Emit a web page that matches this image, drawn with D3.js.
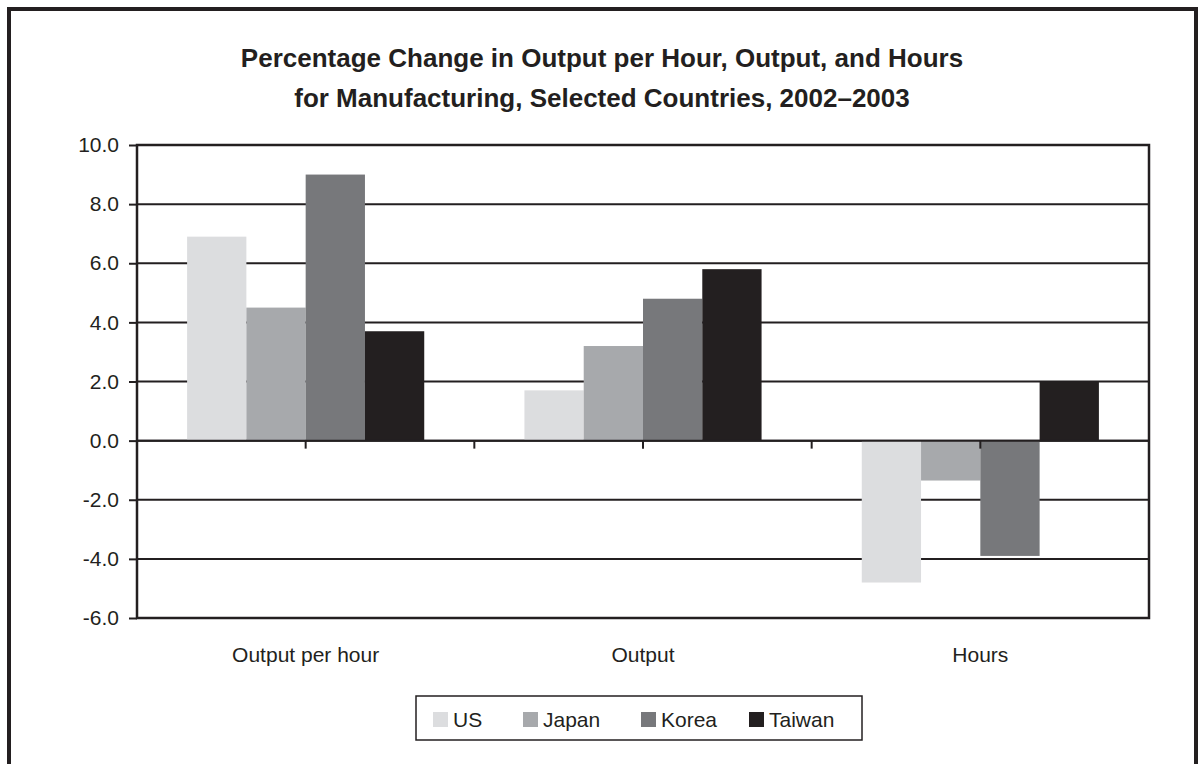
<!DOCTYPE html>
<html>
<head>
<meta charset="utf-8">
<script src="https://cdn.jsdelivr.net/npm/d3@7"></script>
<style>
  html, body { margin: 0; padding: 0; background: #fff; }
  svg text { font-family: "Liberation Sans", Arial, Helvetica, sans-serif; fill: #231f20; }
</style>
</head>
<body>
<div id="chart"></div>
<script>
// ---------------- data ----------------
const categories = ['Output per hour', 'Output', 'Hours'];
const seriesNames = ['US', 'Japan', 'Korea', 'Taiwan'];
const usValues     = [6.9, 1.7, -4.8];
const japanValues  = [4.5, 3.2, -1.35];
const koreaValues  = [9.0, 4.8, -3.9];
const taiwanValues = [3.7, 5.8, 2.0];
const yTicks = [10, 8, 6, 4, 2, 0, -2, -4, -6];
const titleLines = [
  'Percentage Change in Output per Hour, Output, and Hours',
  'for Manufacturing, Selected Countries, 2002\u20132003'
];

const seriesValues = [usValues, japanValues, koreaValues, taiwanValues];
const colors = ['#dcdddf', '#a7a9ac', '#77787b', '#231f20'];
const ink = '#231f20';

const totalWidth = 1198, totalHeight = 764;
const plot = { left: 137, right: 1149, top: 145, bottom: 618 };

const svg = d3.select('#chart').append('svg')
  .attr('width', totalWidth)
  .attr('height', totalHeight);

// outer frame (bottom edge runs off the page)
svg.append('path')
  .attr('d', 'M9,' + totalHeight + 'V9H1196V' + totalHeight)
  .attr('fill', 'none')
  .attr('stroke', ink)
  .attr('stroke-width', 4);

// title
svg.append('g').selectAll('text')
  .data(titleLines)
  .enter()
  .append('text')
  .attr('x', 602)
  .attr('y', (d, i) => 67 + i * 40)
  .attr('text-anchor', 'middle')
  .style('font-size', '26px')
  .style('font-weight', 'bold')
  .text(d => d);

// ---------------- scales ----------------
const yScale = d3.scaleLinear().domain([-6, 10]).range([plot.bottom, plot.top]);
const x0 = d3.scaleBand().domain(categories).range([plot.left, plot.right]).padding(0);
const gapWidth = 1.69;
const barW = x0.bandwidth() / (seriesNames.length + gapWidth);
const x1 = d3.scaleBand().domain(seriesNames)
  .range([(x0.bandwidth() - barW * 4) / 2, (x0.bandwidth() + barW * 4) / 2]);

// gridlines
svg.append('g').selectAll('line')
  .data(yTicks)
  .enter()
  .append('line')
  .attr('x1', plot.left)
  .attr('x2', plot.right)
  .attr('y1', d => yScale(d))
  .attr('y2', d => yScale(d))
  .attr('stroke', ink)
  .attr('stroke-width', 2);

// bars
const rows = [];
categories.forEach((c, ci) => {
  seriesNames.forEach((s, si) => {
    rows.push({ cat: c, series: s, value: seriesValues[si][ci], color: colors[si] });
  });
});

svg.append('g').selectAll('rect')
  .data(rows)
  .enter()
  .append('rect')
  .attr('x', d => x0(d.cat) + x1(d.series))
  .attr('width', x1.bandwidth())
  .attr('y', d => yScale(Math.max(0, d.value)))
  .attr('height', d => Math.abs(yScale(d.value) - yScale(0)))
  .attr('fill', d => d.color);

// zero line on top of bars
svg.append('line')
  .attr('x1', plot.left).attr('x2', plot.right)
  .attr('y1', yScale(0)).attr('y2', yScale(0))
  .attr('stroke', ink).attr('stroke-width', 2);

// x ticks on zero line (category centres and boundaries)
const xTickPos = [];
categories.forEach((c, i) => {
  xTickPos.push(x0(c) + x0.bandwidth() / 2);
  if (i > 0) xTickPos.push(x0(c));
});
svg.append('g').selectAll('line')
  .data(xTickPos)
  .enter()
  .append('line')
  .attr('x1', d => d).attr('x2', d => d)
  .attr('y1', yScale(0)).attr('y2', yScale(0) + 8)
  .attr('stroke', ink).attr('stroke-width', 2);

// plot frame
svg.append('rect')
  .attr('x', plot.left).attr('y', plot.top)
  .attr('width', plot.right - plot.left)
  .attr('height', plot.bottom - plot.top)
  .attr('fill', 'none')
  .attr('stroke', ink)
  .attr('stroke-width', 2.5);

// y axis (plain hyphen for negatives, like the original)
const yAxis = d3.axisLeft(yScale)
  .tickValues(yTicks)
  .tickSize(8)
  .tickPadding(10)
  .tickFormat(d => d.toFixed(1));
const yAxisView = svg.append('g')
  .attr('transform', 'translate(' + plot.left + ',0)')
  .call(yAxis);
yAxisView.select('.domain').remove();
yAxisView.selectAll('line').attr('stroke', ink).attr('stroke-width', 2);
yAxisView.selectAll('text')
  .style('font-size', '21px')
  .style('font-family', '"Liberation Sans", Arial, sans-serif')
  .attr('fill', ink);

// category labels
svg.append('g').selectAll('text')
  .data(categories)
  .enter()
  .append('text')
  .attr('x', d => x0(d) + x0.bandwidth() / 2)
  .attr('y', 662)
  .attr('text-anchor', 'middle')
  .style('font-size', '21px')
  .text(d => d);

// ---------------- legend ----------------
const legend = svg.append('g');
legend.append('rect')
  .attr('x', 416).attr('y', 696)
  .attr('width', 446).attr('height', 44)
  .attr('fill', '#fff')
  .attr('stroke', ink)
  .attr('stroke-width', 1.5);

const legendX = [433, 523, 641, 749];
const legendItem = legend.selectAll('g.item')
  .data(seriesNames)
  .enter()
  .append('g')
  .attr('class', 'item')
  .attr('transform', (d, i) => 'translate(' + legendX[i] + ',712)');
legendItem.append('rect')
  .attr('width', 15).attr('height', 15)
  .attr('fill', (d, i) => colors[i]);
legendItem.append('text')
  .attr('x', 20)
  .attr('y', 15)
  .style('font-size', '21px')
  .text(d => d);
</script>
</body>
</html>
